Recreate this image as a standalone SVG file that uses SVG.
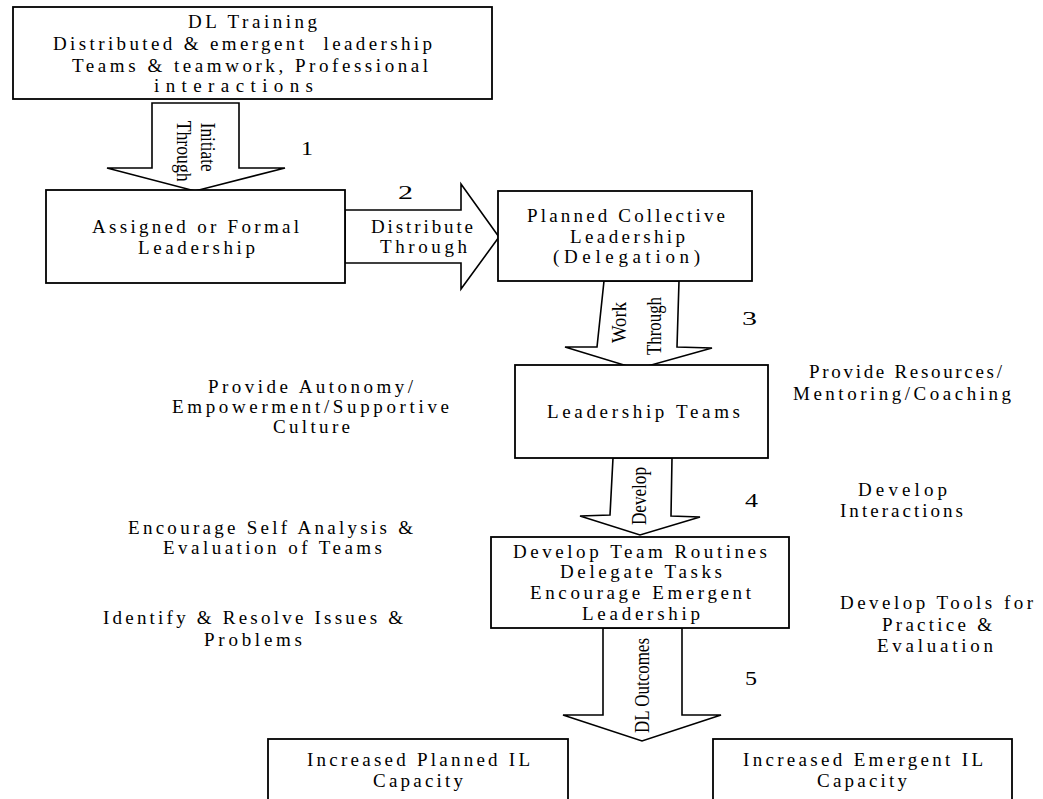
<svg xmlns="http://www.w3.org/2000/svg" width="1043" height="799" viewBox="0 0 1043 799">
<style>
.box{fill:#fff;stroke:#000;stroke-width:1.8}
.arr{fill:#fff;stroke:#000;stroke-width:1.6;stroke-linejoin:miter}
text{font-family:"Liberation Serif","Times New Roman",serif;font-size:19px;fill:#000}
.v{font-size:20px}
.n{font-size:19px}
</style>
<rect width="1043" height="799" fill="#fff"/>

<g id="connectors">
  <polygon class="arr" points="152,103 239,103 239,168 285,168 195,191 107,168 152,168"/>
  <polygon class="arr" points="345,210 461,210 461,184 499,237 461,289 461,263 345,263"/>
  <polygon class="arr" points="604,281 679,281 677,347 712,348 637,369 565,347 597,347"/>
  <polygon class="arr" points="613,458 672,458 671,516 700,517 640,535 580,516 610,515"/>
  <polygon class="arr" points="603,628 682,628 682,715 721,715 642,741 563,715 603,715"/>
  <text class="v" transform="translate(201,122.7) rotate(90)" textLength="49" lengthAdjust="spacingAndGlyphs">Initiate</text>
  <text class="v" transform="translate(177,120.7) rotate(90)" textLength="61" lengthAdjust="spacingAndGlyphs">Through</text>
  <text x="371" y="233" textLength="102">Distribute</text>
  <text x="380" y="253" textLength="87">Through</text>
  <text class="v" transform="translate(626,343) rotate(-90)" textLength="41" lengthAdjust="spacingAndGlyphs">Work</text>
  <text class="v" transform="translate(661,355) rotate(-90)" textLength="58" lengthAdjust="spacingAndGlyphs">Through</text>
  <text class="v" transform="translate(646,525) rotate(-90)" textLength="58" lengthAdjust="spacingAndGlyphs">Develop</text>
  <text class="v" transform="translate(649,733) rotate(-90)" textLength="95" lengthAdjust="spacingAndGlyphs">DL Outcomes</text>
  <text class="n" x="301" y="155" textLength="12" lengthAdjust="spacingAndGlyphs">1</text>
  <text class="n" x="398" y="199" textLength="15" lengthAdjust="spacingAndGlyphs">2</text>
  <text class="n" x="742" y="325" textLength="15" lengthAdjust="spacingAndGlyphs">3</text>
  <text class="n" x="745" y="507" textLength="13" lengthAdjust="spacingAndGlyphs">4</text>
  <text class="n" x="745" y="685" textLength="12" lengthAdjust="spacingAndGlyphs">5</text>
</g>

<g id="dl-training">
  <rect class="box" x="13" y="7" width="479" height="92"/>
  <text x="188" y="28" textLength="129">DL Training</text>
  <text x="53" y="50" textLength="379" xml:space="preserve">Distributed &amp; emergent  leadership</text>
  <text x="72" y="72" textLength="356">Teams &amp; teamwork, Professional</text>
  <text x="154" y="92" textLength="159">interactions</text>
</g>

<g id="assigned-leadership">
  <rect class="box" x="46" y="190" width="299" height="93"/>
  <text x="92" y="233" textLength="207">Assigned or Formal</text>
  <text x="138" y="253.5" textLength="117">Leadership</text>
</g>

<g id="planned-collective">
  <rect class="box" x="498" y="191" width="254" height="90"/>
  <text x="527" y="222" textLength="198">Planned Collective</text>
  <text x="570" y="243" textLength="115">Leadership</text>
  <text x="553" y="263" textLength="147">(Delegation)</text>
</g>

<g id="leadership-teams">
  <rect class="box" x="515" y="365" width="253" height="93"/>
  <text x="547" y="418" textLength="193">Leadership Teams</text>
</g>

<g id="team-routines">
  <rect class="box" x="491" y="537" width="298" height="91"/>
  <text x="513" y="557.5" textLength="254">Develop Team Routines</text>
  <text x="560" y="578" textLength="162">Delegate Tasks</text>
  <text x="530" y="599" textLength="221">Encourage Emergent</text>
  <text x="582" y="620" textLength="118">Leadership</text>
</g>

<g id="planned-capacity">
  <rect class="box" x="268" y="739" width="300" height="80"/>
  <text x="307" y="766" textLength="223">Increased Planned IL</text>
  <text x="373" y="786.5" textLength="90">Capacity</text>
</g>

<g id="emergent-capacity">
  <rect class="box" x="713" y="739" width="299" height="80"/>
  <text x="743" y="766" textLength="240">Increased Emergent IL</text>
  <text x="817" y="786.5" textLength="90">Capacity</text>
</g>

<g id="note-autonomy">
  <text x="208" y="393" textLength="205">Provide Autonomy/</text>
  <text x="172" y="413" textLength="277">Empowerment/Supportive</text>
  <text x="273" y="433" textLength="77">Culture</text>
</g>
<g id="note-self-analysis">
  <text x="128" y="534" textLength="285">Encourage Self Analysis &amp;</text>
  <text x="163" y="554" textLength="219">Evaluation of Teams</text>
</g>
<g id="note-issues">
  <text x="103" y="624" textLength="300">Identify &amp; Resolve Issues &amp;</text>
  <text x="204" y="645.5" textLength="98">Problems</text>
</g>
<g id="note-resources">
  <text x="809" y="378" textLength="193">Provide Resources/</text>
  <text x="793" y="400" textLength="218">Mentoring/Coaching</text>
</g>
<g id="note-interactions">
  <text x="858" y="496" textLength="89">Develop</text>
  <text x="840" y="517" textLength="123">Interactions</text>
</g>
<g id="note-tools">
  <text x="840" y="609" textLength="193">Develop Tools for</text>
  <text x="882" y="630.5" textLength="110">Practice &amp;</text>
  <text x="877" y="652" textLength="116">Evaluation</text>
</g>
</svg>
